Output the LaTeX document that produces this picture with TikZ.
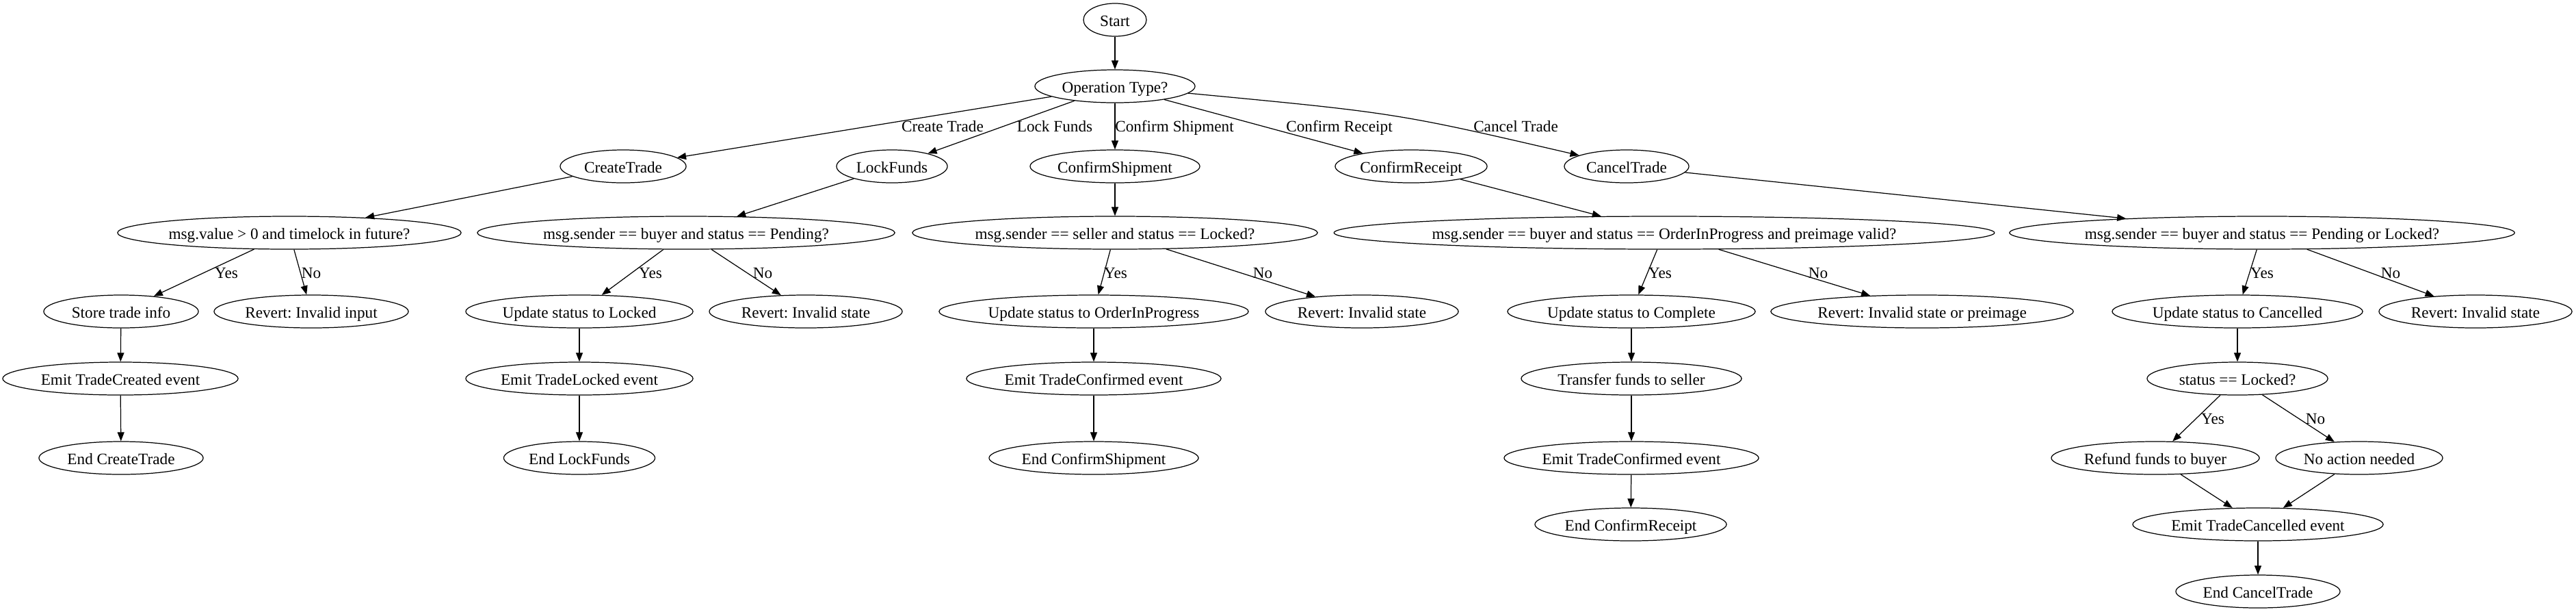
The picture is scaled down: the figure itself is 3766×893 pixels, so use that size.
\documentclass[tikz,border=0pt]{standalone}
\usepackage{fontspec}
\setmainfont{Liberation Serif}
\usetikzlibrary{arrows.meta,shapes.geometric}
\frenchspacing

\begin{document}
\begin{tikzpicture}[x=0.01cm,y=-0.01cm,
    every node/.style={font=\fontsize{6.6}{8}\selectfont},
    box/.style={draw,ellipse,line width=0.35pt,inner ysep=0pt,inner xsep=-0.2cm,
      minimum height=0.48cm,text height=1.5ex,text depth=0.3ex},
    lbl/.style={inner sep=0pt,text height=1.5ex,text depth=0.3ex},
    arr/.style={line width=0.35pt,-{Triangle[length=0.13cm,width=0.1cm]}}]
  \useasboundingbox (0,0) rectangle (3766,893);

  % dispatch
  \node[box,minimum width=0.92cm] (start) at (1630,29) {Start};
  \node[box,minimum width=2.34cm] (optype) at (1630,126) {Operation Type?};

  \node[box,minimum width=1.84cm] (create) at (911,243) {CreateTrade};
  \node[box,minimum width=1.62cm] (lock) at (1304,243) {LockFunds};
  \node[box,minimum width=2.48cm] (ship) at (1630,243) {ConfirmShipment};
  \node[box,minimum width=2.22cm] (receipt) at (2063,243) {ConfirmReceipt};
  \node[box,minimum width=1.82cm] (cancel) at (2378,243) {CancelTrade};

  % checks
  \node[box,minimum width=5.02cm] (chkcreate) at (423,340) {msg.value > 0 and timelock in future?};
  \node[box,minimum width=6.10cm] (chklock) at (1003,340) {msg.sender == buyer and status == Pending?};
  \node[box,minimum width=5.92cm] (chkship) at (1630,340) {msg.sender == seller and status == Locked?};
  \node[box,minimum width=9.65cm] (chkrecv) at (2433,340) {msg.sender == buyer and status == OrderInProgress and preimage valid?};
  \node[box,minimum width=7.38cm] (chkcancel) at (3307,340) {msg.sender == buyer and status == Pending or Locked?};

  \node[box,minimum width=2.26cm] (storeinfo) at (177,455) {Store trade info};
  \node[box,minimum width=2.84cm] (revinput) at (455,455) {Revert: Invalid input};
  \node[box,minimum width=3.32cm] (updlocked) at (847,455) {Update status to Locked};
  \node[box,minimum width=2.82cm] (revlock) at (1178,455) {Revert: Invalid state};
  \node[box,minimum width=4.52cm] (updprog) at (1599,455) {Update status to OrderInProgress};
  \node[box,minimum width=2.82cm] (revship) at (1991,455) {Revert: Invalid state};
  \node[box,minimum width=3.62cm] (updcomplete) at (2385,455) {Update status to Complete};
  \node[box,minimum width=4.42cm] (revrecv) at (2810,455) {Revert: Invalid state or preimage};
  \node[box,minimum width=3.66cm] (updcancelled) at (3271,455) {Update status to Cancelled};
  \node[box,minimum width=2.82cm] (revcancel) at (3619,455) {Revert: Invalid state};

  % events and ends
  \node[box,minimum width=3.44cm] (emitcreated) at (176,553) {Emit TradeCreated event};
  \node[box,minimum width=3.32cm] (emitlocked) at (847,553) {Emit TradeLocked event};
  \node[box,minimum width=3.72cm] (emitconfship) at (1599,553) {Emit TradeConfirmed event};
  \node[box,minimum width=3.22cm] (transfer) at (2385,553) {Transfer funds to seller};
  \node[box,minimum width=2.64cm] (islocked) at (3271,553) {status == Locked?};

  \node[box,minimum width=2.40cm] (endcreate) at (177,669) {End CreateTrade};
  \node[box,minimum width=2.21cm] (endlock) at (847,669) {End LockFunds};
  \node[box,minimum width=3.06cm] (endship) at (1599,669) {End ConfirmShipment};
  \node[box,minimum width=3.72cm] (emitconfrecv) at (2385,669) {Emit TradeConfirmed event};
  \node[box,minimum width=3.04cm] (refund) at (3151,669) {Refund funds to buyer};
  \node[box,minimum width=2.44cm] (noaction) at (3449,669) {No action needed};

  \node[box,minimum width=2.80cm] (endrecv) at (2384,766) {End ConfirmReceipt};
  \node[box,minimum width=3.66cm] (emitcancelled) at (3301,766) {Emit TradeCancelled event};
  \node[box,minimum width=2.40cm] (endcancel) at (3301,864) {End CancelTrade};

  \foreach \a/\b in {start/optype,optype/create,optype/lock,optype/ship,optype/receipt,
      create/chkcreate,lock/chklock,ship/chkship,receipt/chkrecv,cancel/chkcancel,
      chkcreate/storeinfo,chkcreate/revinput,chklock/updlocked,chklock/revlock,
      chkship/updprog,chkship/revship,chkrecv/updcomplete,chkrecv/revrecv,
      chkcancel/updcancelled,chkcancel/revcancel,
      storeinfo/emitcreated,emitcreated/endcreate,updlocked/emitlocked,emitlocked/endlock,
      updprog/emitconfship,emitconfship/endship,updcomplete/transfer,transfer/emitconfrecv,
      emitconfrecv/endrecv,updcancelled/islocked,islocked/refund,islocked/noaction,
      refund/emitcancelled,noaction/emitcancelled,emitcancelled/endcancel}
    \draw[arr] (\a) -- (\b);
  % bends over the Confirm Receipt label
  \draw[arr] (optype) .. controls (2041,165) .. (cancel);

  % edge labels
  \node[lbl] (lcreate) at (1378,183) {Create Trade};
  \node[lbl] (llock) at (1542,183) {Lock Funds};
  \node[lbl] (lship) at (1717,183) {Confirm Shipment};
  \node[lbl] (lreceipt) at (1958,183) {Confirm Receipt};
  \node[lbl] (lcancel) at (2216,183) {Cancel Trade};
  \foreach \x/\t in {331/Yes,455/No,951/Yes,1115/No,1631/Yes,1846/No,2427/Yes,2658/No,3307/Yes,3495/No}
    \node[lbl] at (\x,397) {\t};
  \node[lbl] (lyes) at (3235,610) {Yes};
  \node[lbl] (lno) at (3385,610) {No};
\end{tikzpicture}
\end{document}
